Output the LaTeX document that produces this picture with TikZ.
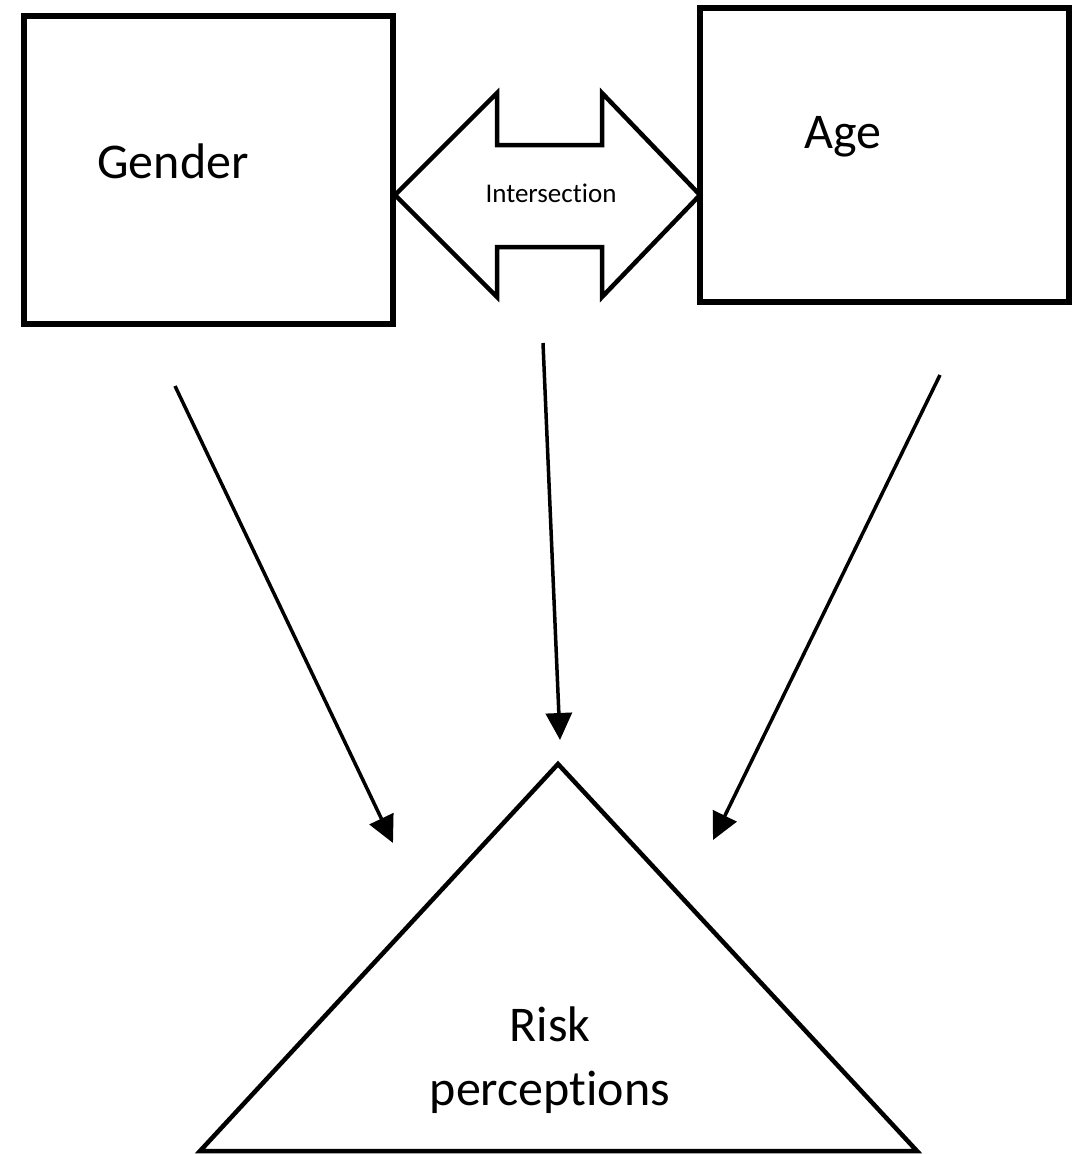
\documentclass[tikz,border=0pt]{standalone}
\usepackage{fontspec}
\setmainfont[Ligatures={NoCommon}]{Carlito}
\usetikzlibrary{arrows.meta}
\tikzset{
  box/.style={draw, line width=#1, rectangle, inner sep=0pt},
  lbl/.style={inner sep=0pt, font=\fontsize{50}{64}\selectfont, align=center},
  smalllbl/.style={inner sep=0pt, font=\fontsize{27}{32}\selectfont},
  conn/.style={line width=3.5pt, -{Triangle[length=27pt,width=26pt]}},
  shapeline/.style={line width=4.5pt, line join=miter}
}
\begin{document}
\begin{tikzpicture}[x=1pt,y=-1pt]
\useasboundingbox (0,0) rectangle (1081,1154);
% boxes
\node[box=6pt, minimum width=369pt, minimum height=308pt] (gender) at (208.5,170) {};
\node[lbl] (gendertext) at (173,161) {Gender};
\node[box=5.5pt, minimum width=369pt, minimum height=294pt] (age) at (884.5,155) {};
\node[lbl] (agetext) at (843,137) {Age};
% double arrow
\draw[shapeline] (395,195) -- (497,93) -- (497,145) -- (602,145) -- (602,93) -- (700,195)
  -- (602,297) -- (602,247) -- (497,247) -- (497,297) -- cycle;
\node[smalllbl] (inter) at (551,193) {Intersection};
% triangle
\draw[shapeline] (558,764) -- (917,1151) -- (200,1151) -- cycle;
\node[lbl] (risk) at (550,1060) {Risk\\perceptions};
% connectors
\coordinate (s1) at (175,386);
\coordinate (e1) at (393,843);
\coordinate (s2) at (543,343);
\coordinate (e2) at (560,740);
\coordinate (s3) at (940,375);
\coordinate (e3) at (713,840);
\draw[conn] (s1) -- (e1);
\draw[conn] (s2) -- (e2);
\draw[conn] (s3) -- (e3);
\end{tikzpicture}
\end{document}
